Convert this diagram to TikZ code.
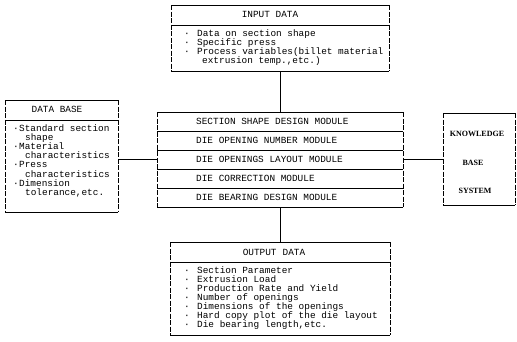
\documentclass[tikz,border=0pt]{standalone}
\usepackage{fontspec}
\setmonofont{Liberation Mono}
\newfontfamily\kbfont{Liberation Serif}
\newcommand\dmfont{\ttfamily\fontsize{9.4}{9}\selectfont}
\newcommand\bul{\makebox[13pt][l]{\textperiodcentered}}
\newcommand\dbul{\makebox[6pt][l]{\textperiodcentered}}

\begin{document}
\begin{tikzpicture}[x=1pt, y=-1pt,
  frame/.style={draw=none, inner sep=0pt, outer sep=0pt},
  hedge/.style={line width=0.9pt},
  vedge/.style={line width=0.5pt, dash pattern=on 5pt off 1.5pt},
  rule/.style={line width=0.75pt},
  link/.style={line width=0.6pt},
  item/.style={font=\dmfont, inner sep=0pt, anchor=base west},
  head/.style={font=\dmfont, inner sep=0pt, anchor=base},
  kbtext/.style={font=\kbfont\bfseries\fontsize{8}{9}\selectfont, inner sep=0pt, anchor=base},
  row/.style={frame, minimum width=246pt, minimum height=19pt}]
\useasboundingbox (0,0) rectangle (517,341);

% ---- box frames
\node[frame, minimum width=218pt, minimum height=66pt] (inbox) at (280,38) {};
\node[frame, minimum width=220pt, minimum height=93pt] (outbox) at (280,288.5) {};
\node[frame, minimum width=113pt, minimum height=112pt] (dbbox) at (61.5,156) {};
\node[frame, minimum width=72pt, minimum height=92pt] (kbbox) at (479,159) {};
\foreach \i in {1,...,5} \node[row] (m\i) at (280,102.5+19*\i) {};

% frame edges: solid top and bottom, broken sides
\foreach \b in {inbox,outbox,dbbox,kbbox} {
  \draw[hedge] (\b.north west) -- (\b.north east);
  \draw[hedge] (\b.south west) -- (\b.south east);
  \draw[vedge] (\b.north west) -- (\b.south west);
  \draw[vedge] (\b.north east) -- (\b.south east);
}
\draw[hedge] (m1.north west) -- (m1.north east);
\draw[hedge] (m5.south west) -- (m5.south east);
\draw[vedge] (m1.north west) -- (m5.south west);
\draw[vedge] (m1.north east) -- (m5.south east);
\foreach \i in {1,...,4} \draw[rule] (m\i.south west) -- (m\i.south east);

% header rules
\draw[rule] (inbox.west |- 0,25) -- (inbox.east |- 0,25);
\draw[rule] (outbox.west |- 0,262) -- (outbox.east |- 0,262);
\draw[rule] (dbbox.west |- 0,120) -- (dbbox.east |- 0,120);

% ---- connectors
\draw[link] (inbox.south) -- (m1.north);
\draw[link] (m5.south) -- (outbox.north);
\draw[link] (dbbox.east |- m3.west) -- (m3.west);
\draw[link] (m3.east) -- (kbbox.west |- m3.east);

% ---- input data
\node[head] (inhead) at (270,17.5) {INPUT DATA};
\foreach \t [count=\i] in {\bul Data on section shape, \bul Specific press,
    \bul Process variables(billet material, \hspace{18pt}extrusion temp.{,}etc.)}
  \node[item] (in\i) at (184,27+9*\i) {\t};

% ---- modules
\foreach \t [count=\i] in {SECTION SHAPE DESIGN MODULE, DIE OPENING NUMBER MODULE,
    DIE OPENINGS LAYOUT MODULE, DIE CORRECTION MODULE, DIE BEARING DESIGN MODULE}
  \node[item] (mt\i) at (196,105+19*\i) {\t};

% ---- data base
\node[head] (dbhead) at (57,112.5) {DATA BASE};
\foreach \t [count=\i] in {\dbul Standard section, \hspace{12pt}shape, \dbul Material,
    \hspace{12pt}characteristics, \dbul Press, \hspace{12pt}characteristics,
    \dbul Dimension, \hspace{12pt}tolerance{,}etc.}
  \node[item] (db\i) at (13,121.8+9.2*\i) {\t};

% ---- knowledge base
\node[kbtext] (kb1) at (477,136) {KNOWLEDGE};
\node[kbtext] (kb2) at (473,165) {BASE};
\node[kbtext] (kb3) at (475,193) {SYSTEM};

% ---- output data
\node[head] (outhead) at (274,255.5) {OUTPUT\hspace{6pt}DATA};
\foreach \t [count=\i] in {Section Parameter, Extrusion Load, Production Rate and Yield,
    Number of openings, Dimensions of the openings, Hard copy plot of the die layout,
    Die bearing length{,}etc.}
  \node[item] (out\i) at (184,264.5+9*\i) {\bul\t};
\end{tikzpicture}
\end{document}
